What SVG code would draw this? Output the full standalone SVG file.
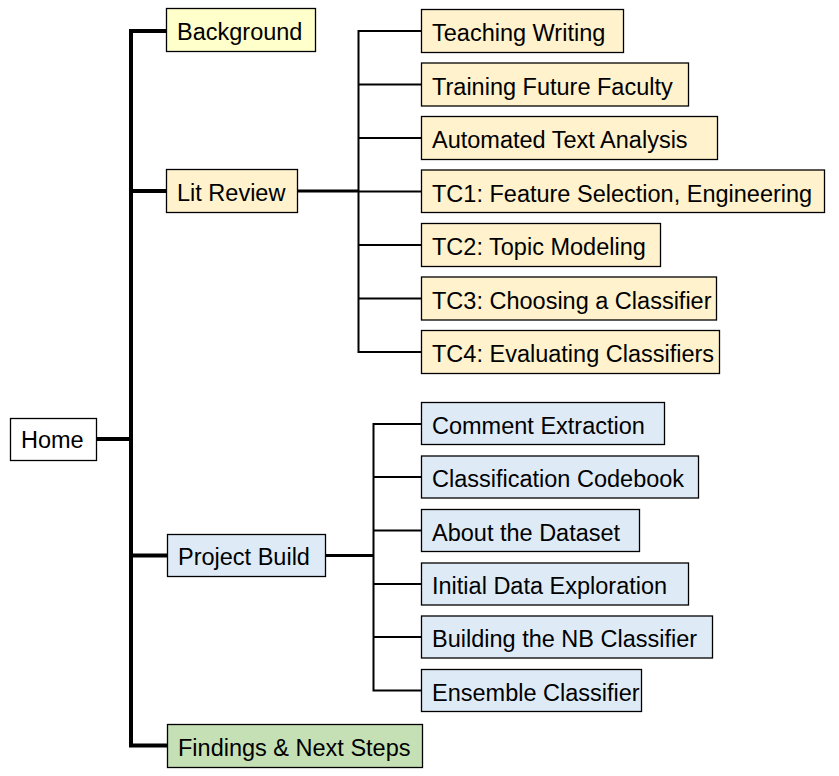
<svg xmlns="http://www.w3.org/2000/svg" width="839" height="776" viewBox="0 0 839 776">
<style>
rect{stroke:#000;stroke-width:1.3}
text{font-family:"Liberation Sans",Arial,sans-serif;font-size:23.5px;fill:#000}
.w{fill:#fff}.y{fill:#FFFFCC}.o{fill:#FFF2CC}.b{fill:#DEEBF7}.g{fill:#C5E0B4}
.main{stroke:#000;stroke-width:4;fill:none}
.mid{stroke:#000;stroke-width:3;fill:none}
.sub{stroke:#000;stroke-width:2;fill:none}
</style>
<rect width="839" height="776" fill="#fff" style="stroke:none"/>
<g id="connectors">
<path class="main" d="M166.5 31H131V745.5H167.5M96.5 439H131M131 191H166.5M131 555.5H167.5"/>
<path class="mid" d="M297.5 191H358.5M325.5 555.5H373.5"/>
<path class="sub" d="M421.5 31H358.5V352H421.5M358.5 84.5H421.5M358.5 138H421.5M358.5 191.5H421.5M358.5 245H421.5M358.5 298.5H421.5"/>
<path class="sub" d="M421.5 424H373.5V690.5H421.5M373.5 477H421.5M373.5 530.5H421.5M373.5 584H421.5M373.5 637H421.5"/>
</g>
<g id="home"><rect class="w" x="10.5" y="418.5" width="86" height="42"/><text x="21" y="448">Home</text></g>
<g id="background"><rect class="y" x="166.5" y="8.5" width="149" height="43"/><text x="177" y="40">Background</text></g>
<g id="lit-review"><rect class="o" x="166.5" y="169.5" width="131" height="43"/><text x="177" y="201">Lit Review</text></g>
<g id="project-build"><rect class="b" x="167.5" y="534.5" width="158" height="42"/><text x="178" y="565">Project Build</text></g>
<g id="findings"><rect class="g" x="167.5" y="724.5" width="255" height="43"/><text x="178" y="756">Findings &amp; Next Steps</text></g>
<g id="teaching-writing"><rect class="o" x="421.5" y="9.5" width="202" height="43"/><text x="432" y="41">Teaching Writing</text></g>
<g id="training-future-faculty"><rect class="o" x="421.5" y="63" width="267" height="43"/><text x="432" y="94.5">Training Future Faculty</text></g>
<g id="automated-text-analysis"><rect class="o" x="421.5" y="116.5" width="296" height="43"/><text x="432" y="148">Automated Text Analysis</text></g>
<g id="tc1"><rect class="o" x="421.5" y="170" width="403" height="42.5"/><text x="432" y="201.5">TC1: Feature Selection, Engineering</text></g>
<g id="tc2"><rect class="o" x="421.5" y="223.5" width="239" height="43"/><text x="432" y="255">TC2: Topic Modeling</text></g>
<g id="tc3"><rect class="o" x="421.5" y="277" width="295" height="43"/><text x="432" y="308.5">TC3: Choosing a Classifier</text></g>
<g id="tc4"><rect class="o" x="421.5" y="330.5" width="298" height="43"/><text x="432" y="362">TC4: Evaluating Classifiers</text></g>
<g id="comment-extraction"><rect class="b" x="421.5" y="402.5" width="243" height="42"/><text x="432" y="433.5">Comment Extraction</text></g>
<g id="classification-codebook"><rect class="b" x="421.5" y="456" width="277" height="42"/><text x="432" y="487">Classification Codebook</text></g>
<g id="about-the-dataset"><rect class="b" x="421.5" y="509.5" width="218" height="42"/><text x="432" y="540.5">About the Dataset</text></g>
<g id="initial-data-exploration"><rect class="b" x="421.5" y="563" width="267" height="42"/><text x="432" y="594">Initial Data Exploration</text></g>
<g id="building-nb-classifier"><rect class="b" x="421.5" y="616" width="291" height="42"/><text x="432" y="647">Building the NB Classifier</text></g>
<g id="ensemble-classifier"><rect class="b" x="421.5" y="669.5" width="220" height="42"/><text x="432" y="700.5">Ensemble Classifier</text></g>
</svg>
